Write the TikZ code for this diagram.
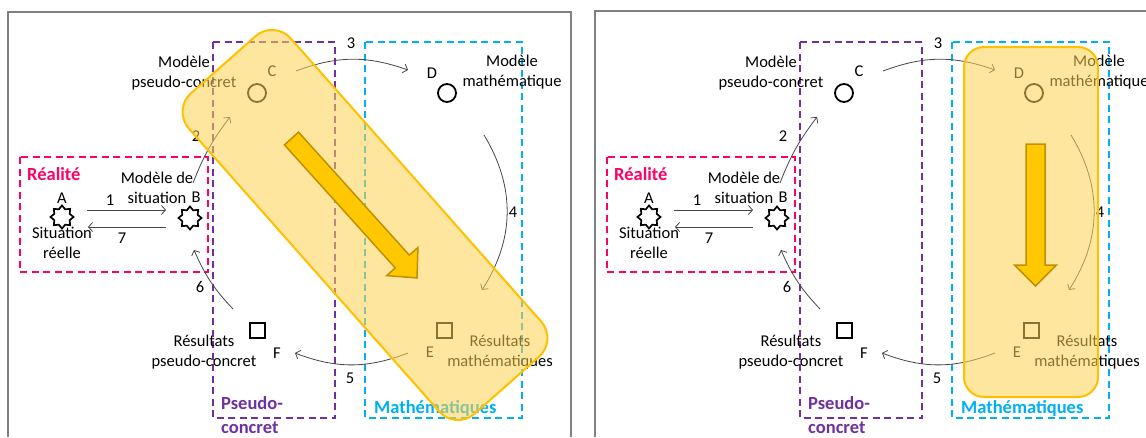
\documentclass[tikz,border=0pt]{standalone}
\usepackage{fontspec}
\setmainfont{Carlito}
\usetikzlibrary{shapes.geometric,arrows.meta,calc}
\definecolor{realc}{RGB}{255,0,102}
\definecolor{pseudoc}{RGB}{112,48,160}
\definecolor{mathc}{RGB}{0,176,240}
\definecolor{hilite}{RGB}{255,210,80}
\definecolor{hiliteb}{RGB}{255,192,0}
\definecolor{arrowf}{RGB}{255,200,0}
\definecolor{arrowb}{RGB}{191,144,0}
\definecolor{framec}{RGB}{128,128,128}
\definecolor{linkc}{RGB}{70,70,70}
\begin{document}
\begin{tikzpicture}[x=1pt,y=-1pt,
  txt/.style={font=\fontsize{16.5}{20}\selectfont, align=center, inner sep=0},
  lbl/.style={font=\fontsize{16.5}{20}\selectfont, inner sep=0},
  zonelbl/.style={font=\fontsize{18.5}{24}\selectfont\bfseries, align=left, inner sep=0, anchor=west},
  zone/.style={draw, line width=2.3pt, dash pattern=on 7pt off 4.5pt},
  starnode/.style={draw, star, star points=8, star point ratio=1.38, minimum size=23pt, inner sep=0, line width=1.7pt},
  circnode/.style={draw, circle, minimum size=18pt, inner sep=0, line width=1.8pt},
  sqnode/.style={draw, rectangle, minimum size=15pt, inner sep=0, line width=2pt},
  link/.style={draw=linkc, line width=0.8pt, -{Straight Barb[length=4pt,width=9pt]}},
  frameline/.style={draw=framec, line width=1.5pt},
  hl/.style={fill=hilite, fill opacity=0.55, draw=hiliteb, line width=2pt, inner sep=0},
  blockarrow/.style={fill=arrowf, draw=arrowb, line width=1.5pt},
]
\useasboundingbox (0,0) rectangle (1146,437);
% frames
\draw[frameline] (8,437) -- (8,12) -- (571,12) -- (571,437);
\draw[frameline] (595,437) -- (595,11) -- (1146,11);
% two panels
\foreach \ox/\p in {0/L,587/R}{
  \draw[zone, realc] (20+\ox,157) rectangle (208+\ox,272);
  \draw[zone, pseudoc] (213+\ox,42) rectangle (335+\ox,418);
  \draw[zone, mathc] (365+\ox,42) rectangle (522+\ox,418);
  \node[zonelbl, text=realc] (realite\p) at (27+\ox,174) {Réalité};
  \node[zonelbl, text=pseudoc] (pseudo\p) at (221+\ox,415) {Pseudo-\\concret};
  \node[zonelbl, text=mathc] (maths\p) at (374+\ox,408) {Mathématiques};
  % elements
  \node[starnode] (A\p) at (62+\ox,217) {};
  \node[starnode] (B\p) at (190+\ox,218) {};
  \node[circnode] (C\p) at (257+\ox,93) {};
  \node[circnode] (D\p) at (447+\ox,93) {};
  \node[sqnode] (E\p) at (444+\ox,330) {};
  \node[sqnode] (F\p) at (257+\ox,330) {};
  % letters
  \node[lbl] (la\p) at (62+\ox,198) {A};
  \node[lbl] (lb\p) at (196+\ox,197) {B};
  \node[lbl] (lc\p) at (272+\ox,71) {C};
  \node[lbl] (ld\p) at (432+\ox,73) {D};
  \node[lbl] (le\p) at (430+\ox,352) {E};
  \node[lbl] (lf\p) at (277+\ox,353) {F};
  % texts
  \node[txt] (tA\p) at (62+\ox,243) {Situation\\réelle};
  \node[txt] (tB\p) at (157+\ox,188) {Modèle de\\situation};
  \node[txt] (tC\p) at (184+\ox,73) {Modèle\\pseudo-concret};
  \node[txt] (tD\p) at (512+\ox,72) {Modèle\\mathématique};
  \node[txt] (tE\p) at (500+\ox,352) {Résultats\\mathématiques};
  \node[txt] (tF\p) at (204+\ox,352) {Résultats\\pseudo-concret};
  % numbers
  \node[lbl] (n1\p) at (110+\ox,200) {1};
  \node[lbl] (n2\p) at (196+\ox,136) {2};
  \node[lbl] (n3\p) at (351+\ox,43) {3};
  \node[lbl] (n4\p) at (513+\ox,212) {4};
  \node[lbl] (n5\p) at (350+\ox,378) {5};
  \node[lbl] (n6\p) at (200+\ox,287) {6};
  \node[lbl] (n7\p) at (122+\ox,238) {7};
  % connectors
  \draw[link] ($(A\p)+(25,-7)$) -- ($(B\p)+(-24,-8)$);
  \draw[link] ($(B\p)+(-24,9)$) -- ($(A\p)+(26,10)$);
  \draw[link] ($(B\p)+(3,-35)$) to[bend left=8] ($(C\p)+(-27,24)$);
  \draw[link] ($(C\p)+(39,-22)$) to[bend left=20] ($(D\p)+(-39,-23)$);
  \draw[link] ($(D\p)+(37,42)$) to[bend left=32] ($(E\p)+(38,-40)$);
  \draw[link] ($(E\p)+(-36,23)$) to[bend left=21] ($(F\p)+(38,23)$);
  \draw[link] ($(F\p)+(-24,-21)$) to[bend left=10] ($(B\p)+(4,32)$);
}
% highlight, left panel
\node[hl, rounded corners=25pt, minimum width=428pt, minimum height=136pt, rotate=-48.5] (hlL) at (365,225) {};
\begin{scope}[shift={(291.5,138.5)}, rotate=-48]
  \draw[blockarrow] (0,-9.5) -- (165.6,-9.5) -- (165.6,-21) -- (187.6,0) -- (165.6,21) -- (165.6,9.5) -- (0,9.5) -- cycle;
\end{scope}
% highlight, right panel
\node[hl, rounded corners=20pt, minimum width=134pt, minimum height=350pt] (hlR) at (1031,222) {};
\draw[blockarrow] (1026,144) -- (1045,144) -- (1045,265) -- (1056.5,265) -- (1035.5,286) -- (1014.5,265) -- (1026,265) -- cycle;
\end{tikzpicture}
\end{document}
